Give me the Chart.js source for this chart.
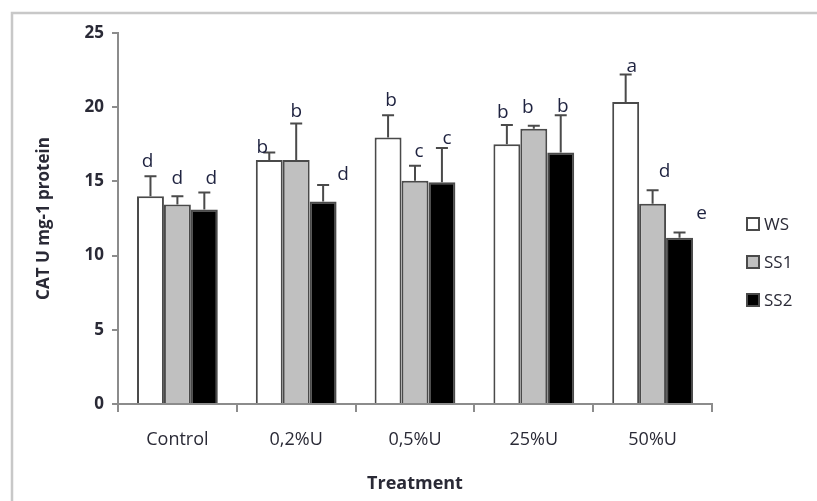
<!DOCTYPE html>
<html>
<head>
<meta charset="utf-8">
<script src="https://cdn.jsdelivr.net/npm/chart.js@4.4.1/dist/chart.umd.min.js"></script>
<style>
  body { margin: 0; background: #fff; }
  #wrap { width: 817px; height: 501px; }
</style>
</head>
<body>
<div id="wrap"><canvas id="myChart" width="817" height="501"></canvas></div>
<script>
// data
const treatments = ['Control', '0,2%U', '0,5%U', '25%U', '50%U'];
const seriesNames = ['WS', 'SS1', 'SS2'];
const wsValues = [14.0, 16.45, 17.95, 17.5, 20.35];
const wsErrors = [1.35, 0.5, 1.5, 1.3, 1.85];
const ss1Values = [13.45, 16.45, 15.05, 18.55, 13.5];
const ss1Errors = [0.55, 2.45, 1.0, 0.2, 0.9];
const ss2Values = [13.1, 13.65, 14.95, 16.95, 11.2];
const ss2Errors = [1.15, 1.1, 2.3, 2.5, 0.35];
const wsLetters = ['d', 'b', 'b', 'b', 'a'];
const ss1Letters = ['d', 'b', 'c', 'b', 'd'];
const ss2Letters = ['d', 'd', 'c', 'b', 'e'];
const yTicks = [0, 5, 10, 15, 20, 25];

// letter placement relative to the whisker top (px), per series
const letterShift = [
  [[-3, -15], [-7, -5], [3, -15], [-4, -12], [6, -8]],
  [[0, -18], [0, -12], [4, -14], [-6, -18], [12, -19]],
  [[7, -14], [20, -11], [5, -9], [2, -9], [22, -19]]
];

const FONT = '"Open Sans", sans-serif';
const TEXT = '#2a2a36';
const EDGE = '#4a4a4a';
const AXIS = '#8c8c8c';
const fills = ['#ffffff', '#c0c0c0', '#000000'];
const errors = [wsErrors, ss1Errors, ss2Errors];
const letters = [wsLetters, ss1Letters, ss2Letters];

const framePlugin = {
  id: 'frame',
  beforeDraw(chart) {
    const ctx = chart.ctx;
    ctx.save();
    ctx.fillStyle = '#fff';
    ctx.fillRect(0, 0, chart.width, chart.height);
    ctx.strokeStyle = '#c8c8c8';
    ctx.lineWidth = 2.5;
    ctx.beginPath();
    ctx.moveTo(12, chart.height);
    ctx.lineTo(12, 13);
    ctx.lineTo(chart.width, 13);
    ctx.stroke();
    ctx.restore();
  }
};

const errorBarPlugin = {
  id: 'errorBars',
  afterDatasetsDraw(chart) {
    const ctx = chart.ctx;
    const y = chart.scales.y;
    ctx.save();
    chart.data.datasets.forEach((ds, di) => {
      const meta = chart.getDatasetMeta(di);
      meta.data.forEach((bar, i) => {
        const top = y.getPixelForValue(ds.data[i] + errors[di][i]);
        ctx.strokeStyle = EDGE;
        ctx.lineWidth = 2;
        ctx.beginPath();
        ctx.moveTo(bar.x, bar.y);
        ctx.lineTo(bar.x, top);
        ctx.moveTo(bar.x - 6, top);
        ctx.lineTo(bar.x + 6, top);
        ctx.stroke();

        const [dx, dy] = letterShift[di][i];
        ctx.fillStyle = '#1f2340';
        ctx.font = '19px ' + FONT;
        ctx.textAlign = 'center';
        ctx.textBaseline = 'middle';
        ctx.fillText(letters[di][i], bar.x + dx, top + dy);
      });
    });
    ctx.restore();
  }
};

const legendPlugin = {
  id: 'sideLegend',
  afterDraw(chart) {
    const ctx = chart.ctx;
    ctx.save();
    seriesNames.forEach((name, i) => {
      const cy = 224 + i * 38;
      ctx.fillStyle = fills[i];
      ctx.fillRect(747, cy - 6, 12, 12);
      ctx.strokeStyle = EDGE;
      ctx.lineWidth = 2;
      ctx.strokeRect(747, cy - 6, 12, 12);
      ctx.fillStyle = TEXT;
      ctx.font = '17px ' + FONT;
      ctx.textAlign = 'left';
      ctx.textBaseline = 'middle';
      ctx.fillText(name, 764, cy + 1);
    });
    ctx.restore();
  }
};

const makeSet = (label, data, i) => ({
  label: label,
  data: data,
  backgroundColor: fills[i],
  borderColor: EDGE,
  borderWidth: 2,
  borderSkipped: 'bottom'
});

new Chart(document.getElementById('myChart').getContext('2d'), {
  type: 'bar',
  data: {
    labels: treatments,
    datasets: [
      makeSet(seriesNames[0], wsValues, 0),
      makeSet(seriesNames[1], ss1Values, 1),
      makeSet(seriesNames[2], ss2Values, 2)
    ]
  },
  options: {
    responsive: false,
    animation: false,
    categoryPercentage: 0.68,
    barPercentage: 1.0,
    layout: { padding: { left: 26, top: 33, right: 105, bottom: 6 } },
    plugins: {
      legend: { display: false },
      tooltip: { enabled: false }
    },
    scales: {
      x: {
        afterFit: (scale) => { scale.height = 91; },
        border: { display: true, color: AXIS, width: 2 },
        grid: { drawOnChartArea: false, drawTicks: true, tickLength: 8, color: AXIS, lineWidth: 2 },
        ticks: { color: TEXT, font: { family: FONT, size: 18 }, padding: 17 },
        title: {
          display: true,
          text: 'Treatment',
          color: TEXT,
          font: { family: FONT, size: 18, weight: 'bold' },
          padding: { top: 4, bottom: 0 }
        }
      },
      y: {
        min: 0,
        max: 25,
        afterFit: (scale) => { scale.width = 92; },
        afterBuildTicks: (scale) => { scale.ticks = yTicks.map(v => ({ value: v })); },
        border: { display: true, color: AXIS, width: 2 },
        grid: { drawOnChartArea: false, drawTicks: true, tickLength: 6, color: AXIS, lineWidth: 2 },
        ticks: { color: TEXT, font: { family: FONT, size: 17, weight: 'bold' }, padding: 8 },
        title: {
          display: true,
          text: 'CAT U mg-1 protein',
          color: TEXT,
          font: { family: FONT, size: 17, weight: 'bold' },
          padding: { top: 8, bottom: 0 }
        }
      }
    }
  },
  plugins: [framePlugin, errorBarPlugin, legendPlugin]
});
</script>
</body>
</html>
